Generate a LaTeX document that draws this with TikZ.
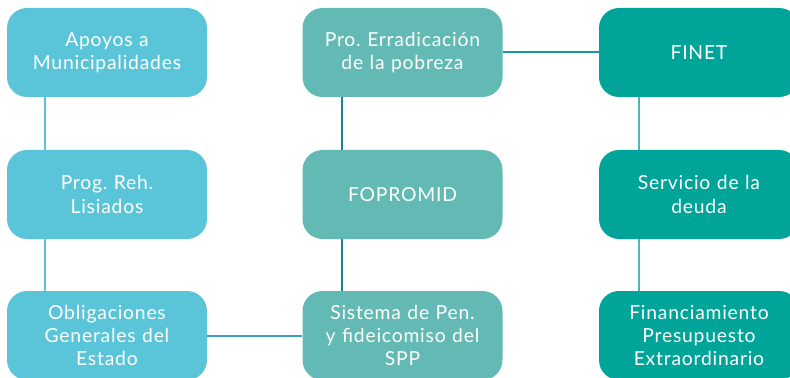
\documentclass[tikz,border=0pt]{standalone}
\usepackage{fontspec}
\setmainfont{Lato}[LetterSpace=4]
\usetikzlibrary{positioning, calc}
\definecolor{apoyoblue}{HTML}{5AC5D9}
\definecolor{fondoteal}{HTML}{63BAB5}
\definecolor{deudateal}{HTML}{00A499}
\definecolor{linkdark}{HTML}{1A7FA0}
\definecolor{linkteal}{HTML}{1B989E}
\definecolor{linklight}{HTML}{4FB8AF}
\definecolor{linkmid}{HTML}{3C9FC0}
\tikzset{
  fundbox/.style={rounded corners=15pt, minimum width=150pt, minimum height=66.75pt,
    text width=148pt, align=center, inner sep=0pt, text=white,
    font=\fontsize{14.5}{17.5}\selectfont\frenchspacing},
  fundlink/.style={line width=1.5pt}
}

\begin{document}
\begin{tikzpicture}[x=0.75pt, y=-0.75pt]
  % Page frame
  \useasboundingbox (0,0) rectangle (790,378);
  \clip (0,0) rectangle (790,378);

  % Left column
  \node[fundbox, fill=apoyoblue] (apoyos) at (107, 52.5) {Apoyos a\\Municipalidades};
  \node[fundbox, fill=apoyoblue] (lisiados) at (107, 194.5) {Prog. Reh.\\Lisiados};
  \node[fundbox, fill=apoyoblue] (obligaciones) at (107, 335.5) {Obligaciones\\Generales del\\Estado};

  % Middle column
  \node[fundbox, fill=fondoteal] (pobreza) at (402.5, 52.5) {Pro. Erradicación\\de la pobreza};
  \node[fundbox, fill=fondoteal] (fopromid) at (402.5, 194.5) {FOPROMID};
  \node[fundbox, fill=fondoteal] (pensiones) at (402.5, 335.5) {Sistema de Pen.\\y fideicomiso del\\SPP};

  % Right column
  \node[fundbox, fill=deudateal] (finet) at (699, 52.5) {FINET};
  \node[fundbox, fill=deudateal] (servicio) at (699, 194.5) {Servicio de la\\deuda};
  \node[fundbox, fill=deudateal] (financiamiento) at (699, 335.5) {Financiamiento\\Presupuesto\\Extraordinario};

  % Vertical links
  \draw[fundlink, apoyoblue] ([xshift=28.5pt]apoyos.south west) -- ([xshift=28.5pt]lisiados.north west);
  \draw[fundlink, apoyoblue] ([xshift=28.5pt]lisiados.south west) -- ([xshift=28.5pt]obligaciones.north west);
  \draw[fundlink, linkdark] ([xshift=30pt]pobreza.south west) -- ([xshift=30pt]fopromid.north west);
  \draw[fundlink, linkdark] ([xshift=30pt]fopromid.south west) -- ([xshift=30pt]pensiones.north west);
  \draw[fundlink, linklight] ([xshift=30pt]finet.south west) -- ([xshift=30pt]servicio.north west);
  \draw[fundlink, linklight] ([xshift=30pt]servicio.south west) -- ([xshift=30pt]financiamiento.north west);

  % Horizontal links
  \draw[fundlink, linkteal] (pobreza.east) -- (finet.west);
  \draw[fundlink, linkmid] (obligaciones.east) -- (pensiones.west);
\end{tikzpicture}
\end{document}
